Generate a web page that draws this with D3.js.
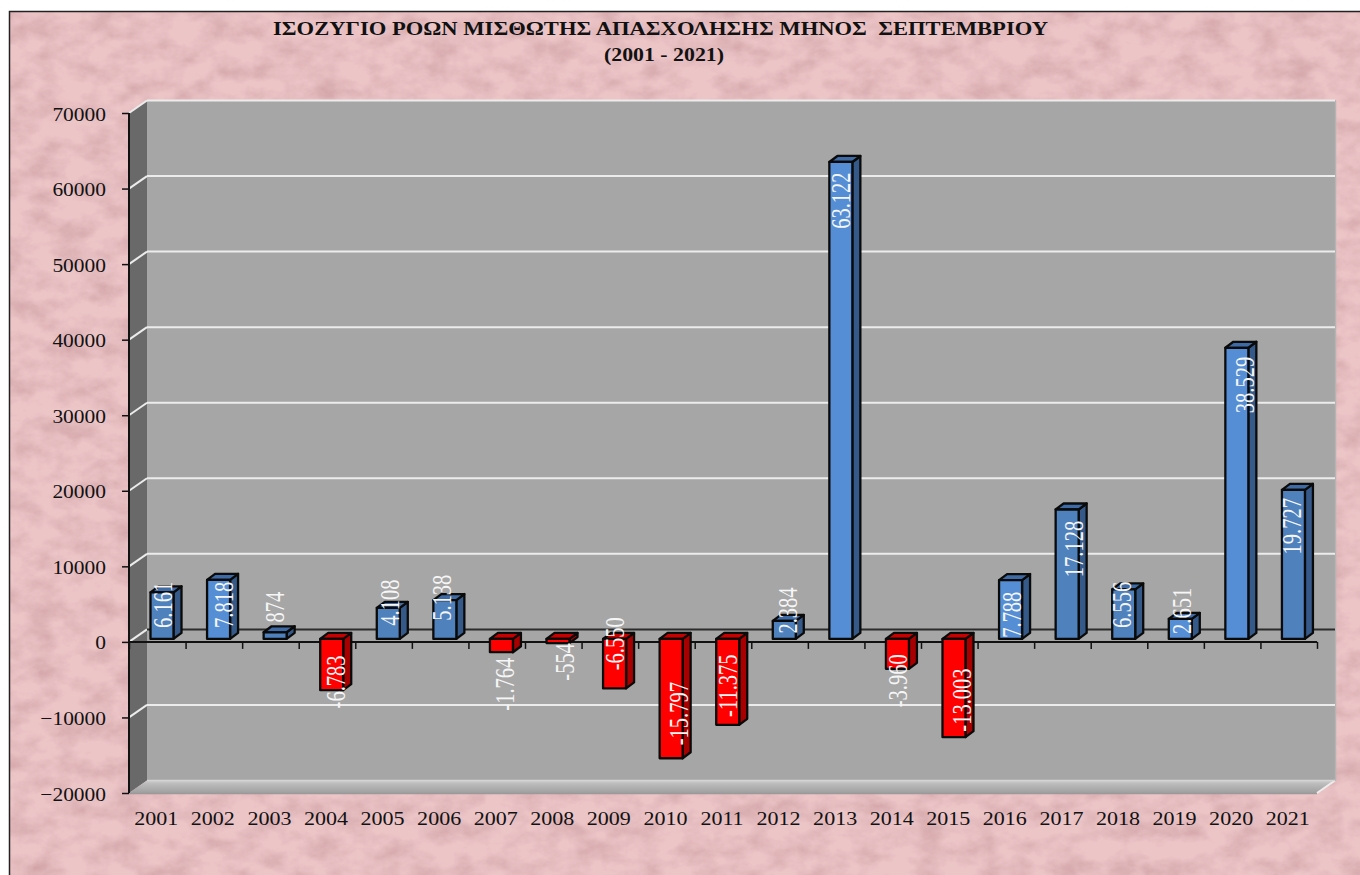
<!DOCTYPE html>
<html><head><meta charset="utf-8">
<script src="https://cdn.jsdelivr.net/npm/d3@7"></script>
<style>html,body{margin:0;padding:0;background:#fff;overflow:hidden}svg{display:block}text{font-family:"Liberation Serif",serif}</style>
</head><body><div id="c"></div>
<script>
const years=["2001","2002","2003","2004","2005","2006","2007","2008","2009","2010","2011","2012","2013","2014","2015","2016","2017","2018","2019","2020","2021"];
const balance=[6161,7818,874,-6783,4108,5138,-1764,-554,-6550,-15797,-11375,2384,63122,-3960,-13003,7788,17128,6556,2651,38529,19727];
const valueTicks=[-20000,-10000,0,10000,20000,30000,40000,50000,60000,70000];
const titleLines=["ΙΣΟΖΥΓΙΟ ΡΟΩΝ ΜΙΣΘΩΤΗΣ ΑΠΑΣΧΟΛΗΣΗΣ ΜΗΝΟΣ  ΣΕΠΤΕΜΒΡΙΟΥ","(2001 - 2021)"];

const W=1360,H=875;
const svg=d3.select("#c").append("svg").attr("width",W).attr("height",H);
const defs=svg.append("defs");
const f=defs.append("filter").attr("id","paper").attr("x",0).attr("y",0).attr("width","100%").attr("height","100%");
f.append("feTurbulence").attr("type","fractalNoise").attr("baseFrequency","0.035 0.05").attr("numOctaves",4).attr("seed",11).attr("result","n");
f.append("feColorMatrix").attr("in","n").attr("type","matrix").attr("values","0 0 0 0 0  0 0 0 0 0  0 0 0 0 0  0.9 0 0 0 -0.33").attr("result","a");
f.append("feFlood").attr("flood-color","#b98288").attr("result","col");
f.append("feComposite").attr("in","col").attr("in2","a").attr("operator","in").attr("result","blot");
f.append("feMerge").call(m=>{m.append("feMergeNode").attr("in","SourceGraphic");m.append("feMergeNode").attr("in","blot");});
const fg=defs.append("linearGradient").attr("id","floor").attr("x1",0).attr("x2",0).attr("y1",0).attr("y2",1);
fg.append("stop").attr("offset",0).attr("stop-color","#cfcfcf");
fg.append("stop").attr("offset",0.25).attr("stop-color","#bcbcbc");
fg.append("stop").attr("offset",1).attr("stop-color","#9f9f9f");

// frame + textured background
svg.append("rect").attr("x",10).attr("y",12).attr("width",W-10).attr("height",H-12).attr("fill","#ecc5c7").attr("filter","url(#paper)");
svg.append("path").attr("d",`M9.5,${H}V11.5H${W}`).attr("fill","none").attr("stroke","#222").attr("stroke-width",1.5);

// geometry
const pL=129,pR=1317,pT=113,pB=793,dx=18,dy=-12.5;
const y=d3.scaleLinear().domain([-20000,70000]).range([pB,pT]);
const xBand=d3.scaleBand().domain(years).range([pL,pR]);
const xEdge=d3.scaleLinear().domain([0,years.length]).range([pL,pR]);

// walls
svg.append("rect").attr("x",pL+dx).attr("y",pT+dy).attr("width",pR-pL+1).attr("height",pB-pT).attr("fill","#a6a6a6");
svg.append("path").attr("d",`M${pL},${pT}L${pL+dx},${pT+dy}V${pB+dy}L${pL},${pB}Z`).attr("fill","#696969");
svg.append("path").attr("d",`M${pL},${pB}L${pL+dx},${pB+dy}H${pR+dx}L${pR},${pB}Z`).attr("fill","url(#floor)");
svg.append("path").attr("d",`M${pL},${pB+.5}H${pR}`).attr("stroke","#9a9a9a").attr("stroke-width",1.5);
svg.append("path").attr("d",`M${pR},${pB}L${pR+dx},${pB+dy}`).attr("stroke","#eee").attr("stroke-width",2);
svg.append("path").attr("d",`M${pR+dx+.5},${pT+dy}V${pB+dy}`).attr("stroke","#b4b4b4").attr("stroke-width",1.5);

// gridlines
const grid=svg.append("g");
valueTicks.filter(v=>v!==-20000).forEach(v=>{
  const p=y(v), zero=v===0;
  grid.append("path").attr("d",`M${pL},${p}L${pL+dx},${p+dy}`).attr("fill","none").attr("stroke","#ececec").attr("stroke-width",2);
  grid.append("path").attr("d",`M${pL+dx},${p+dy}H${pR+dx}`).attr("fill","none").attr("stroke",zero?"#2b2b2b":"#ececec").attr("stroke-width",2);
});
grid.append("path").attr("d",`M${pL+dx},${pB+dy}H${pR+dx}`).attr("stroke","#d4d4d4").attr("stroke-width",1.5);

// axes
const axL=svg.append("g").attr("transform",`translate(${pL},0)`).call(d3.axisLeft(y).tickValues(valueTicks).tickFormat(d3.format("d")).tickSize(7).tickPadding(0));
axL.select(".domain").attr("stroke","#111").attr("stroke-width",2).attr("d",`M0,${pT}V${pB}`);
axL.selectAll(".tick line").attr("stroke","#111").attr("stroke-width",1.5);
axL.selectAll(".tick text").attr("fill","#111").attr("font-size",19.5).attr("text-anchor","end").attr("dy",null)
  .attr("transform","translate(-23,7) scale(1.1,1)").attr("x",0).attr("y",0);

const axB=svg.append("g").attr("transform",`translate(0,${y(0)})`).call(d3.axisBottom(xEdge).ticks(years.length).tickFormat("").tickSize(7));
axB.select(".domain").attr("stroke","#111").attr("stroke-width",2).attr("d",`M${pL},0H${pR}`);
axB.selectAll(".tick line").attr("stroke","#111").attr("stroke-width",1.5);

const axC=svg.append("g").attr("transform",`translate(0,825)`).call(d3.axisBottom(xBand).tickSize(0).tickPadding(0));
axC.select(".domain").remove();
axC.selectAll(".tick text").attr("fill","#111").attr("font-size",19).attr("y",0).attr("dy",0).attr("transform","scale(1.16,1)").attr("x",0);
axC.selectAll(".tick").attr("transform",d=>`translate(${xBand(d)+xBand.bandwidth()/2-1},0)`);

// 3D bars
const brightYears=new Set(["2002","2013","2016","2019","2020"]);
const barW=23,bx=8,by=-6,barLift=-3,barInset=21.5;
const gBars=svg.append("g").attr("stroke","#0a0a0a").attr("stroke-width",2.3).attr("stroke-linejoin","round");
const bar=gBars.selectAll("g").data(years).join("g");
function geom(d,i){const v=balance[i],x0=xBand(d)+barInset;
  const a=y(Math.max(v,0))+barLift,b=y(Math.min(v,0))+barLift;return{x0,a,b,pos:v>=0};}
bar.append("path").attr("d",(d,i)=>{const g=geom(d,i);return `M${g.x0+barW},${g.a}l${bx},${by}V${g.b+by}l${-bx},${-by}Z`;})
  .attr("fill",(d,i)=>geom(d,i).pos?"#355a8a":"#a80000");
bar.append("path").attr("d",(d,i)=>{const g=geom(d,i);return `M${g.x0},${g.a}l${bx},${by}h${barW}l${-bx},${-by}Z`;})
  .attr("fill",(d,i)=>geom(d,i).pos?"#3e6ba6":"#c80000");
bar.append("rect").attr("x",(d,i)=>geom(d,i).x0).attr("y",(d,i)=>geom(d,i).a).attr("width",barW).attr("height",(d,i)=>{const g=geom(d,i);return g.b-g.a;})
  .attr("fill",(d,i)=>geom(d,i).pos?(brightYears.has(d)?"#558ed5":"#4f81bd"):"#ff0000");

// data labels, placed by hand as in the source chart: offset from the bar's centre, and value level of the label's centre
const fmt=d3.formatLocale({decimal:",",thousands:".",grouping:[3],currency:["",""],minus:"-"}).format(",d");
const labelShiftX=[0.5,5,0,4.5,1.5,-2.5,4,6.5,0,7.5,0,3.5,0.5,1,8,1.5,7,-2,1.5,8,-1];
const labelLevel=[4900,4900,4600,-5300,5200,5850,-5600,-2650,-250,-9500,-5800,4150,58400,-5150,-7700,3600,12300,4900,4100,34000,15300];
const gLab=svg.append("g");
gLab.selectAll("text").data(years).join("text")
  .attr("transform",(d,i)=>`translate(${xBand(d)+barInset+barW/2+labelShiftX[i]+9},${y(labelLevel[i])}) scale(1.3,1) rotate(-90)`)
  .attr("text-anchor","middle").attr("fill","#f6f6f6").attr("font-size",20.5)
  .text((d,i)=>fmt(balance[i]));

// title
const gT=svg.append("g").attr("font-weight","bold").attr("fill","#111").attr("text-anchor","middle");
gT.append("text").attr("x",660.5).attr("y",35).attr("font-size",19).style("white-space","pre").attr("textLength",775).attr("lengthAdjust","spacingAndGlyphs").text(titleLines[0]);
gT.append("text").attr("x",664).attr("y",61).attr("font-size",19).attr("textLength",120).attr("lengthAdjust","spacingAndGlyphs").text(titleLines[1]);
</script></body></html>
